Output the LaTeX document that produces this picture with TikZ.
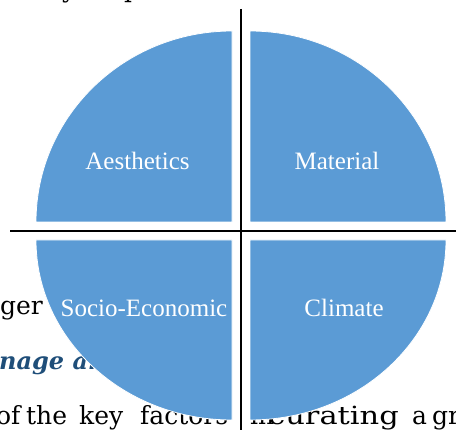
\documentclass[tikz,border=0pt]{standalone}
\usepackage{fontspec}
\usepackage{graphicx}
\setmainfont{Liberation Serif}
\newfontfamily\bodyfont{DejaVu Serif}
\definecolor{qblue}{HTML}{5B9BD5}
\definecolor{hblue}{HTML}{1F4E79}
\begin{document}
\begin{tikzpicture}[x=1pt,y=-1pt,
  quad/.style={fill=qblue,draw=white,line width=0.8pt},
  lbl/.style={text=white,font=\fontsize{25}{30}\selectfont,inner sep=0pt,anchor=base},
  bodytext/.style={font=\bodyfont\fontsize{25}{30}\selectfont,inner sep=0pt,anchor=base west},
  headtext/.style={font=\bodyfont\bfseries\itshape\fontsize{24}{29}\selectfont,text=hblue,inner sep=0pt,anchor=base west},
  axisline/.style={line width=2.4pt,black}]
\useasboundingbox (0,0) rectangle (456,430);
\clip (0,0) rectangle (456,430);
% background document text
\node[bodytext] (t1) at (62,-2) {y};
\node[bodytext] (t2) at (124,-2) {p};
\node[bodytext] (ger) at (0,315) {ger};
\node[headtext] (head) at (-1,370) {nage an};
\node[bodytext] (w1) at (-4,425) {of};
\node[bodytext] (w2) at (26,425) {the};
\node[bodytext] (w3) at (79,425) {key};
\node[bodytext] (w4) at (140,425) {factors};
\node[bodytext] (w5) at (250,425) {in};
\node[bodytext] (w6) at (268,425) {\scalebox{1.22}[1]{curating}};
\node[bodytext] (w7) at (412,425) {a};
\node[bodytext] (w8) at (432,425) {gr};
% quadrants
\draw[quad] (232,222) -- (36,222) arc[start angle=180,end angle=270,x radius=196,y radius=191] -- cycle;
\draw[quad] (250,222) -- (446,222) arc[start angle=0,end angle=-90,x radius=196,y radius=191] -- cycle;
\draw[quad] (232,240) -- (36,240) arc[start angle=180,end angle=90,x radius=196,y radius=180] -- cycle;
\draw[quad] (250,240) -- (446,240) arc[start angle=0,end angle=90,x radius=196,y radius=180] -- cycle;
% axes
\coordinate (vt) at (241,9);
\coordinate (vb) at (241,432);
\coordinate (hl) at (10,231);
\coordinate (hr) at (458,231);
\draw[axisline] (vt) -- (vb);
\draw[axisline] (hl) -- (hr);
% labels
\node[lbl] (aes) at (137.5,170) {Aesthetics};
\node[lbl] (mat) at (337,170) {Material};
\node[lbl] (soc) at (144,317) {Socio-Economic};
\node[lbl] (cli) at (344,317) {Climate};
\end{tikzpicture}
\end{document}
